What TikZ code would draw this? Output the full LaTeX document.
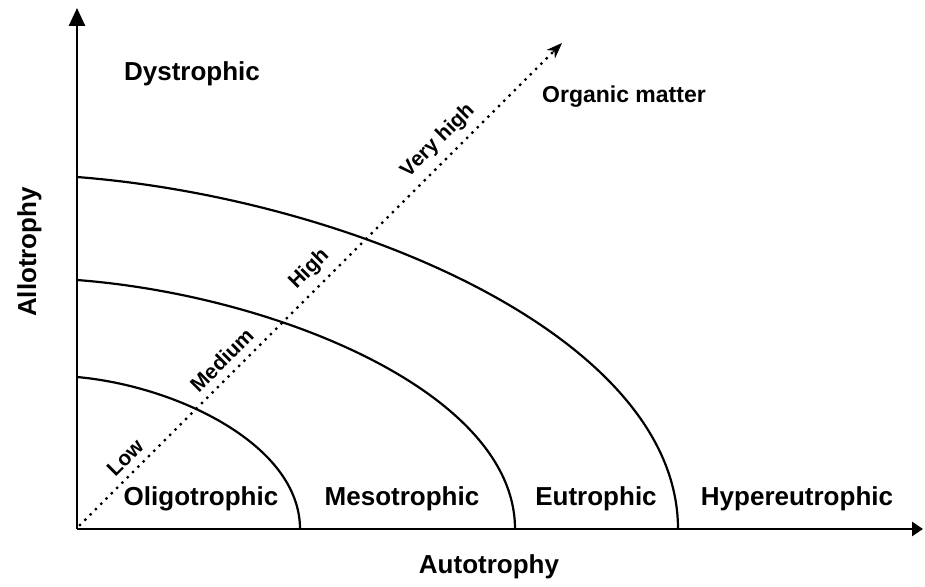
\documentclass[tikz,border=0pt]{standalone}
\usepackage{fontspec}
\setmainfont{Liberation Sans}
\usetikzlibrary{arrows.meta,calc}
\begin{document}
\begin{tikzpicture}[x=1pt,y=-1pt,
  axis/.style={line width=2.6pt},
  zone/.style={line width=2.2pt},
  lbl/.style={font=\fontsize{26}{28}\selectfont\bfseries, inner sep=0pt, anchor=base},
  grade/.style={font=\fontsize{21}{24}\selectfont\bfseries, inner sep=0pt, sloped, above=7pt},
  om/.style={line width=3.3pt, line cap=round, dash pattern=on 0pt off 7.5pt}]
\useasboundingbox (0,0) rectangle (925,586);

% axes
\coordinate (O) at (77,529);
\coordinate (ytop) at (77,8);
\coordinate (xend) at (923,529);
\draw[axis, -{Triangle[length=18pt,width=16pt]}] (O) -- (ytop);
\draw[axis, -{Triangle[length=11pt,width=14pt]}] (O) -- (xend);

% trophic boundaries
\draw[zone] (77,377) .. controls (177,386) and (300,445) .. (300,529);
\draw[zone] (77,280) .. controls (274,295) and (515,392) .. (515,529);
\draw[zone] (77,177) .. controls (347,198) and (678,335) .. (678,529);

% organic matter gradient
\coordinate (omstart) at (80,525);
\coordinate (omend) at (562,43);
\draw[om] (omstart) -- (omend)
  node[grade, pos=0.117] {Low}
  node[grade, pos=0.318] {Medium}
  node[grade, pos=0.503] {High}
  node[grade, pos=0.77] {Very high};
\draw[line width=1pt, -{Stealth[length=16pt,width=12pt]}] ($(omend)!0.02!(omstart)$) -- (omend);

% labels
\node[lbl] (dys) at (192,80) {Dystrophic};
\node[lbl] (oli) at (201,505) {Oligotrophic};
\node[lbl] (mes) at (402,505) {Mesotrophic};
\node[lbl] (eut) at (596,505) {Eutrophic};
\node[lbl] (hyp) at (797,505) {Hypereutrophic};
\node[lbl] (aut) at (489,573) {Autotrophy};
\node[lbl, rotate=90] (all) at (36,252) {Allotrophy};
\node[font=\fontsize{23}{25}\selectfont\bfseries, inner sep=0pt, anchor=base west] (om) at (542,102) {Organic matter};
\end{tikzpicture}
\end{document}
